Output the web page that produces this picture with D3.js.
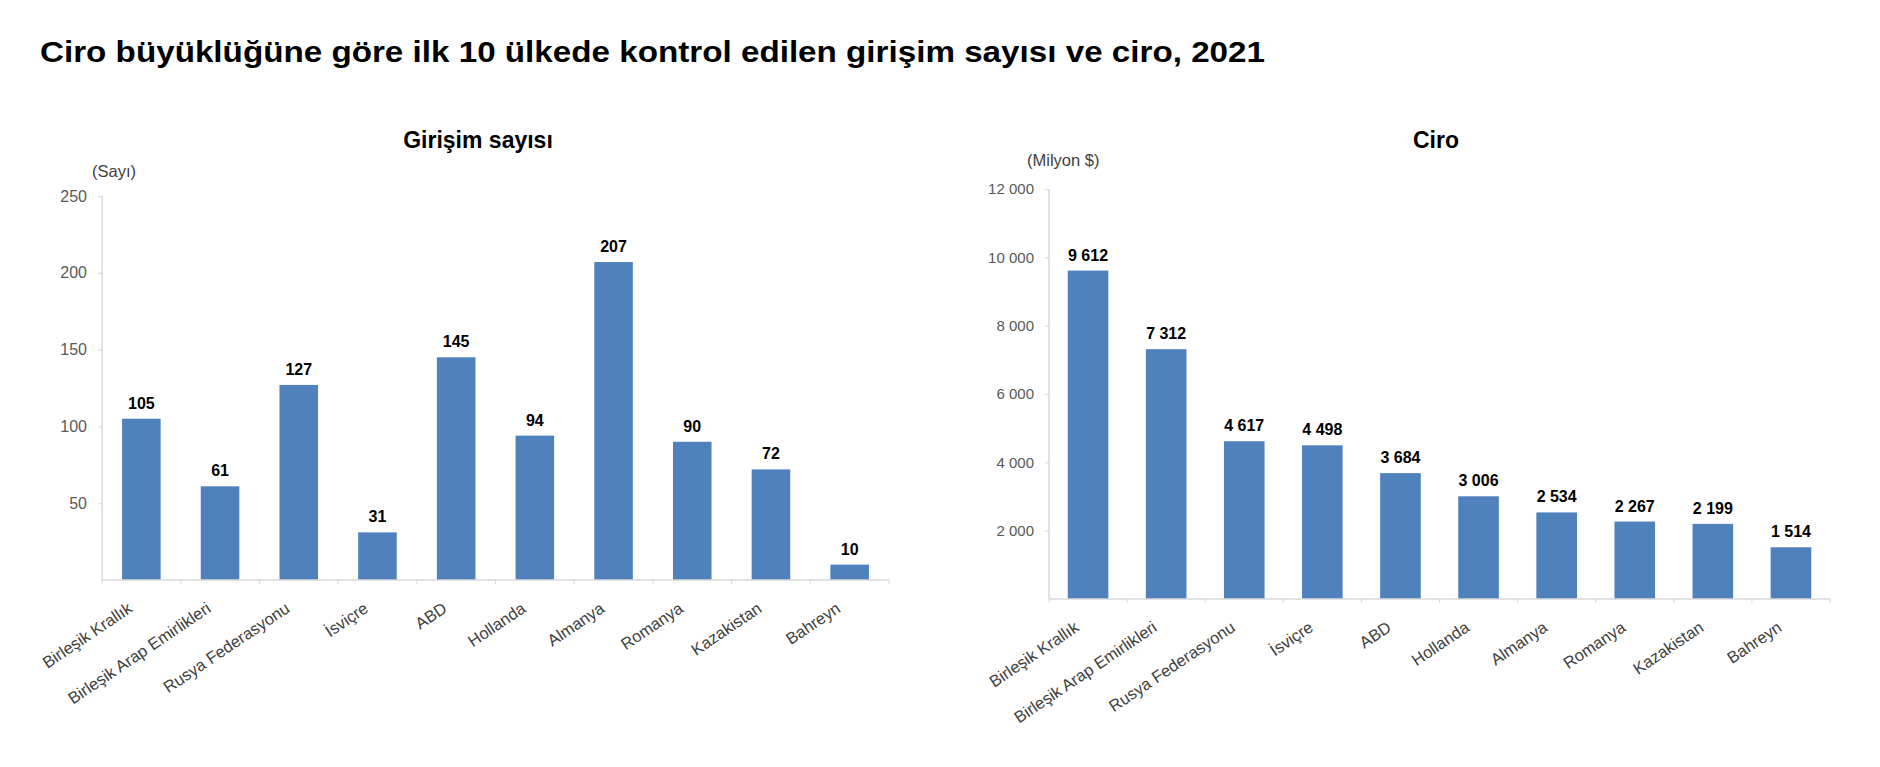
<!DOCTYPE html>
<html>
<head>
<meta charset="utf-8">
<script src="https://cdn.jsdelivr.net/npm/d3@7"></script>
<style>
  html, body { margin: 0; padding: 0; background: #fff; }
  svg { display: block; font-family: "Liberation Sans", Arial, sans-serif; }
</style>
</head>
<body>
<svg id="chart" width="1880" height="767"></svg>
<script>
// ---- Data ----
const mainTitle = "Ciro büyüklüğüne göre ilk 10 ülkede kontrol edilen girişim sayısı ve ciro, 2021";

const countriesLeft = ["Birleşik Krallık", "Birleşik Arap Emirlikleri", "Rusya Federasyonu", "İsviçre", "ABD", "Hollanda", "Almanya", "Romanya", "Kazakistan", "Bahreyn"];
const enterpriseCounts = [105, 61, 127, 31, 145, 94, 207, 90, 72, 10];
const leftTicks = [50, 100, 150, 200, 250];
const leftTitle = "Girişim sayısı";
const leftUnit = "(Sayı)";

const countriesRight = ["Birleşik Krallık", "Birleşik Arap Emirlikleri", "Rusya Federasyonu", "İsviçre", "ABD", "Hollanda", "Almanya", "Romanya", "Kazakistan", "Bahreyn"];
const turnover = [9612, 7312, 4617, 4498, 3684, 3006, 2534, 2267, 2199, 1514];
const rightTicks = [2000, 4000, 6000, 8000, 10000, 12000];
const rightTitle = "Ciro";
const rightUnit = "(Milyon $)";

// ---- Rendering ----
const svg = d3.select("#chart");
const loc = d3.formatLocale({decimal: ",", thousands: " ", grouping: [3], currency: ["", ""]});
const fmt = loc.format(",d");

const BAR = "#4f81bd";
const AXIS = "#d9d9d9";

// main title
const t = svg.append("text")
  .attr("x", 40).attr("y", 62)
  .attr("font-size", 29).attr("font-weight", "bold").attr("fill", "#000")
  .text(mainTitle);
const tw = t.node().getComputedTextLength();
const targetW = 1225;
if (Math.abs(tw - targetW) > 4) t.attr("textLength", targetW).attr("lengthAdjust", "spacingAndGlyphs");

function drawPanel(cfg) {
  const g = svg.append("g");
  const x = d3.scaleBand().domain(cfg.cats).range([cfg.x0, cfg.x1])
    .paddingInner(cfg.pad).paddingOuter(cfg.pad / 2);
  const y = d3.scaleLinear().domain([0, cfg.max]).range([cfg.y0, cfg.y1]);

  // panel title
  g.append("text").attr("x", cfg.titleX).attr("y", cfg.titleY)
    .attr("text-anchor", "middle").attr("font-size", 23).attr("font-weight", "bold")
    .attr("fill", "#000").text(cfg.title);
  // unit label
  g.append("text").attr("x", cfg.unitX).attr("y", cfg.unitY)
    .attr("font-size", 16.5).attr("fill", "#404040").text(cfg.unit);

  // y axis
  const yAxis = d3.axisLeft(y).tickValues(cfg.ticks).tickSize(4).tickPadding(11).tickFormat(fmt);
  const ya = g.append("g").attr("transform", `translate(${cfg.x0},0)`).call(yAxis);
  ya.select(".domain").attr("stroke", AXIS).attr("stroke-width", 1.5)
    .attr("d", `M0,${y(cfg.max)}V${cfg.y0}`);
  ya.selectAll(".tick line").attr("stroke", AXIS);
  ya.selectAll(".tick text").attr("fill", "#595959").attr("font-size", cfg.tickFont)
    .attr("font-family", '"Liberation Sans", Arial, sans-serif');

  // bars
  g.selectAll("rect.bar").data(cfg.vals).enter().append("rect")
    .attr("class", "bar")
    .attr("x", (d, i) => x(cfg.cats[i]))
    .attr("width", x.bandwidth())
    .attr("y", d => y(d))
    .attr("height", d => y(0) - y(d))
    .attr("fill", BAR);

  // value labels
  g.selectAll("text.val").data(cfg.vals).enter().append("text")
    .attr("class", "val")
    .attr("x", (d, i) => x(cfg.cats[i]) + x.bandwidth() / 2)
    .attr("y", d => y(d) - 10)
    .attr("text-anchor", "middle").attr("font-size", 16).attr("font-weight", "bold")
    .attr("fill", "#000")
    .text(d => fmt(d));

  // baseline
  g.append("line").attr("x1", cfg.x0).attr("x2", cfg.x1)
    .attr("y1", y(0)).attr("y2", y(0)).attr("stroke", AXIS).attr("stroke-width", 1.5);
  // category separators
  const step = x.step();
  d3.range(cfg.cats.length + 1).forEach(i => {
    const xx = cfg.x0 + i * step;
    g.append("line").attr("x1", xx).attr("x2", xx)
      .attr("y1", y(0)).attr("y2", y(0) + 4).attr("stroke", AXIS);
  });

  // category labels
  g.selectAll("text.cat").data(cfg.cats).enter().append("text")
    .attr("class", "cat")
    .attr("transform", d => `translate(${x(d) + x.bandwidth() / 2 - 8},${y(0) + 31}) rotate(-34)`)
    .attr("text-anchor", "end").attr("font-size", 16.5).attr("fill", "#404040")
    .text(d => d);
}

drawPanel({
  cats: countriesLeft, vals: enterpriseCounts, ticks: leftTicks, max: 250,
  x0: 102, x1: 889, y0: 580, y1: 196, pad: 0.51, tickFont: 16,
  title: leftTitle, titleX: 478, titleY: 148,
  unit: leftUnit, unitX: 92, unitY: 177
});

drawPanel({
  cats: countriesRight, vals: turnover, ticks: rightTicks, max: 12000,
  x0: 1049, x1: 1830, y0: 599, y1: 189, pad: 0.48, tickFont: 15,
  title: rightTitle, titleX: 1436, titleY: 148,
  unit: rightUnit, unitX: 1027, unitY: 166
});
</script>
</body>
</html>
